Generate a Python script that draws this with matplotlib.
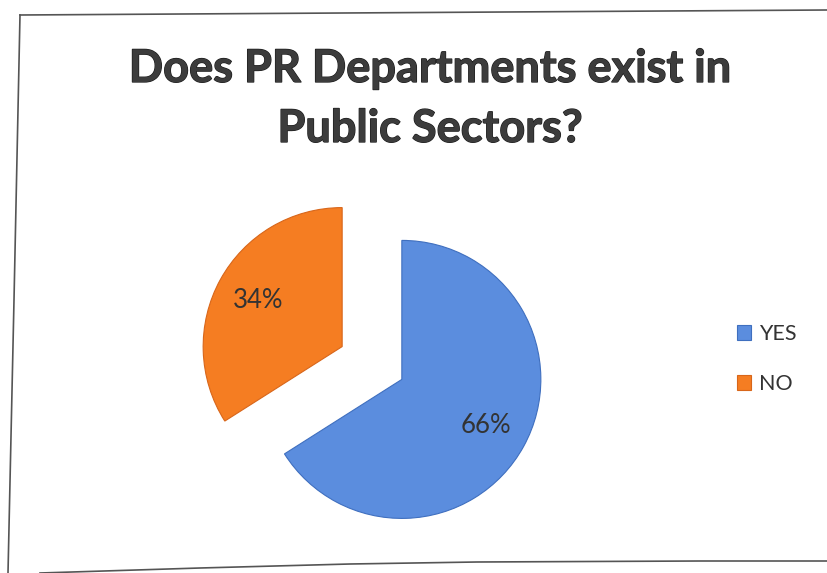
import matplotlib
matplotlib.use("Agg")
import matplotlib.pyplot as plt
import matplotlib.patheffects as pe
from matplotlib.lines import Line2D

plt.rcParams["font.family"] = ["Lato", "DejaVu Sans"]

# data
labels = ["YES", "NO"]
shares = [66, 34]
colors = ["#5B8DDE", "#F57D22"]
edges = ["#3F6FBF", "#D8661A"]
title_lines = ["Does PR Departments exist in", "Public Sectors?"]

W, H = 827, 573
fig = plt.figure(figsize=(W / 100, H / 100), dpi=100)
fig.patch.set_facecolor("white")


def px(x, y):
    return x / W, 1 - y / H


# chart frame (a bit crooked, like a scanned page)
frame = [
    [(20, 15), (827, 10)],
    [(20, 15), (14, 300), (8, 573)],
    [(40, 573), (200, 568), (350, 564), (477, 562), (700, 561), (827, 561)],
]
for seg in frame:
    xs, ys = zip(*[px(x, y) for x, y in seg])
    fig.add_artist(Line2D(xs, ys, color="#555555", lw=1.2))

# title, two lines placed on their baselines
outline = [pe.withStroke(linewidth=0.9, foreground="#1a1a1a")]
for line, base in zip(title_lines, [82, 142]):
    fig.text(*px(430, base), line, ha="center", va="baseline",
             fontsize=32.5, fontweight="bold", color="#3c3c3c",
             path_effects=outline)

# pie, centred at (372, 363) px with radius ~139 px
R = 139
half = 200
ax = fig.add_axes([(372 - half) / W, (H - 363 - half) / H, 2 * half / W, 2 * half / H])
ax.axis("off")

wedges, texts, autotexts = ax.pie(
    shares, colors=colors, startangle=90, counterclock=False,
    explode=[0.245, 0.245], autopct="%d%%", pctdistance=0.69,
    textprops=dict(fontsize=18.5, color="#333333"),
    wedgeprops=dict(linewidth=0.8), frame=False,
)
for w, ec in zip(wedges, edges):
    w.set_edgecolor(ec)
ax.set_xlim(-half / R, half / R)
ax.set_ylim(-half / R, half / R)

fig.legend(wedges, labels, loc="center left", bbox_to_anchor=px(728, 359),
           frameon=False, fontsize=15.5, handlelength=0.65, handleheight=0.65,
           labelspacing=1.4, handletextpad=0.4, borderaxespad=0,
           labelcolor="#333333")

fig.savefig("out.png", dpi=100, facecolor="white")
